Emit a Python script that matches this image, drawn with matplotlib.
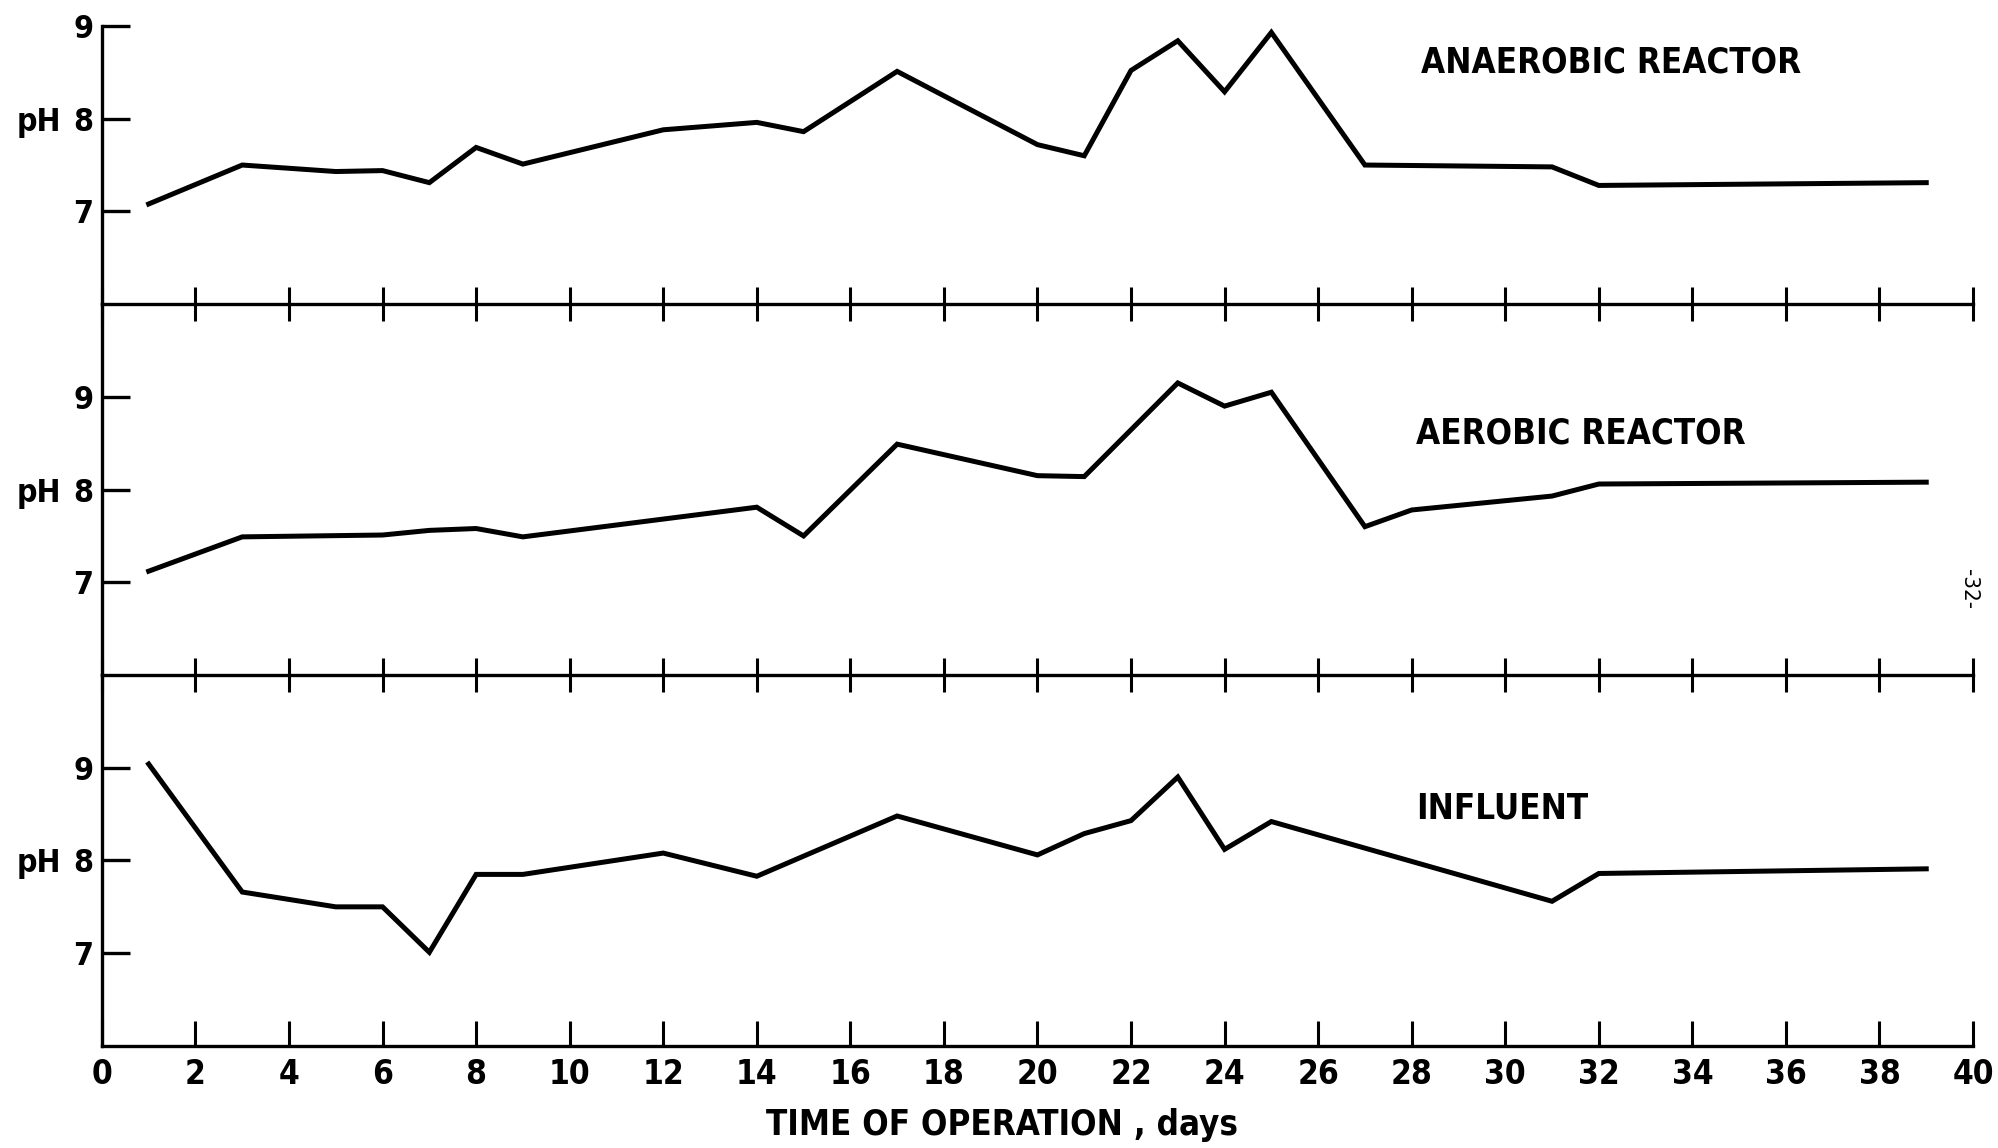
import numpy as np
import matplotlib.pyplot as plt

# pH readings over time (days) for the three streams
days_anaerobic = [1, 3, 5, 6, 7, 8, 9, 12, 14, 15, 17, 20, 21, 22, 23, 24, 25, 27, 31, 32, 39]
ph_anaerobic = [7.08, 7.50, 7.43, 7.44, 7.31, 7.69, 7.51, 7.88, 7.96, 7.86, 8.51,
                7.72, 7.60, 8.52, 8.84, 8.29, 8.93, 7.50, 7.48, 7.28, 7.31]

days_aerobic = [1, 3, 6, 7, 8, 9, 14, 15, 17, 20, 21, 23, 24, 25, 27, 28, 31, 32, 39]
ph_aerobic = [7.12, 7.49, 7.51, 7.56, 7.58, 7.49, 7.81, 7.50, 8.49, 8.15, 8.14,
              9.15, 8.90, 9.05, 7.60, 7.78, 7.93, 8.06, 8.08]

days_influent = [1, 3, 5, 6, 7, 8, 9, 12, 14, 17, 20, 21, 22, 23, 24, 25, 31, 32, 39]
ph_influent = [9.04, 7.66, 7.50, 7.50, 7.01, 7.85, 7.85, 8.08, 7.83, 8.48, 8.06,
               8.29, 8.43, 8.90, 8.12, 8.42, 7.56, 7.86, 7.91]

panel_names = ['ANAEROBIC REACTOR', 'AEROBIC REACTOR', 'INFLUENT']
y_ticks = [7, 8, 9]
x_ticks = list(range(0, 41, 2))

plt.rcParams['font.family'] = ['DejaVu Sans']
plt.rcParams['font.stretch'] = 'condensed'
plt.rcParams['font.weight'] = 'bold'

fig = plt.figure(figsize=(19.98, 11.48), dpi=100)
gs = fig.add_gridspec(3, 1, height_ratios=[3, 4, 4], hspace=0,
                      left=0.051, right=0.9875, top=0.9774, bottom=0.0889)
axes = [fig.add_subplot(gs[i]) for i in range(3)]

series = [(days_anaerobic, ph_anaerobic), (days_aerobic, ph_aerobic),
          (days_influent, ph_influent)]
ylims = [(6, 9), (6, 10), (6, 10)]
label_pos = [(28.2, 8.61), (28.1, 8.6), (28.1, 8.56)]

for i, ax in enumerate(axes):
    d, p = series[i]
    ax.patch.set_visible(False)
    ax.plot(d, p, color='black', lw=3.6, solid_joinstyle='miter', clip_on=False)
    ax.set_xlim(0, 40)
    ax.set_ylim(*ylims[i])
    ax.spines['top'].set_visible(False)
    ax.spines['right'].set_visible(False)
    ax.spines['left'].set_linewidth(2.4)
    ax.spines['bottom'].set_linewidth(2.4)
    ax.set_yticks(y_ticks)
    ax.set_yticklabels([str(t) for t in y_ticks])
    ax.tick_params(axis='y', direction='in', length=20, width=2.4, pad=6,
                   labelsize=23)
    ax.set_xticks(x_ticks)
    if i < 2:
        ax.tick_params(axis='x', direction='inout', length=25, width=2.2,
                       labelbottom=False)
    else:
        ax.set_xticklabels([str(t) for t in x_ticks])
        ax.tick_params(axis='x', direction='in', length=18, width=2.2, pad=9,
                       labelsize=24)
    ax.annotate('pH', xy=(0, 8), xycoords=('axes fraction', 'data'),
                xytext=(-29, 0), textcoords='offset points',
                ha='right', va='center_baseline', fontsize=23)
    ax.text(label_pos[i][0], label_pos[i][1], panel_names[i],
            fontsize=25, va='center', ha='left')

fig.text(0.5015, 0.020, 'TIME OF OPERATION , days', ha='center', va='center',
         fontsize=25)
fig.text(0.9855, 0.487, '-32-', rotation=-90, ha='center', va='center',
         fontsize=16, fontweight='normal')

fig.savefig('out.png', dpi=100)
